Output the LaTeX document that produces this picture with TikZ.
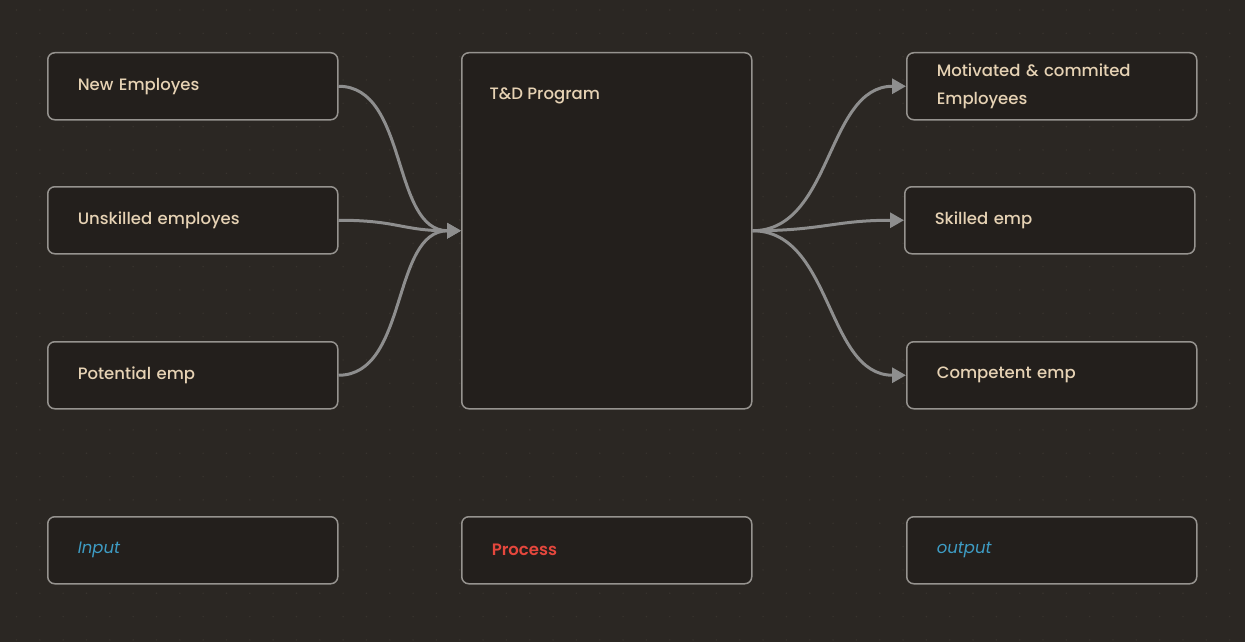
\documentclass[tikz,border=0pt]{standalone}
\usepackage{fontspec}
\setmainfont{Poppins}[UprightFont={* Medium}, ItalicFont={* Italic}, BoldFont={* SemiBold}]
\usetikzlibrary{arrows.meta}

\definecolor{bgcol}{HTML}{2B2723}
\definecolor{dotcol}{HTML}{39342F}
\definecolor{boxfill}{HTML}{231F1C}
\definecolor{boxline}{HTML}{96938F}
\definecolor{txtcol}{HTML}{E6D2B4}
\definecolor{arrcol}{HTML}{8E8E8E}
\definecolor{labblue}{HTML}{3E9CC4}
\definecolor{labred}{HTML}{E5473D}

\tikzset{
    card/.style={draw=boxline, line width=1.5pt, fill=boxfill, rounded corners=7pt,
        anchor=north west, text width=230pt, inner xsep=30pt, inner ysep=0pt,
        minimum height=67pt, align=left, text=txtcol,
        font=\fontsize{16.5}{28}\selectfont},
    flow/.style={draw=arrcol, line width=3pt, -{Triangle[length=14pt,width=15pt]}},
}

\begin{document}
\begin{tikzpicture}[x=1pt, y=-1pt]
    \useasboundingbox (0,0) rectangle (1245,642);
    \fill[bgcol] (0,0) rectangle (1245,642);
    \foreach \i in {0,...,53}
        \foreach \j in {0,...,27}
            \fill[dotcol] ({16.5+23.33*\i},{10+23.33*\j}) circle (0.8pt);

    % input side
    \node[card] (newemp) at (47,52) {New Employes};
    \node[card] (unskilled) at (47,186) {Unskilled employes};
    \node[card] (potential) at (47,341) {Potential emp};

    % process
    \node[card, minimum height=356pt,
          label={[anchor=west, xshift=25pt, yshift=-44pt, text=txtcol,
                  font=\fontsize{16.5}{28}\selectfont]north west:T\&D Program}]
          (td) at (461,52) {};

    % output side
    \node[card] (motivated) at (906,52) {Motivated \& commited\\Employees};
    \node[card] (skilled) at (904,186) {Skilled emp};
    \node[card] (competent) at (906,341) {Competent emp};

    % legend row
    \node[card, text=labblue, font=\fontsize{16.5}{28}\selectfont\itshape] (input) at (47,516) {Input};
    \node[card, text=labred, font=\fontsize{16.5}{28}\selectfont\bfseries] (process) at (461,516) {Process};
    \node[card, text=labblue, font=\fontsize{16.5}{28}\selectfont\itshape] (output) at (906,516) {output};

    \draw[flow] (newemp.east) .. controls +(70,0) and +(-70,0) .. (td.west);
    \draw[flow] (unskilled.east) .. controls +(60,0) and +(-60,0) .. (td.west);
    \draw[flow] (potential.east) .. controls +(70,0) and +(-70,0) .. (td.west);

    \draw[flow] (td.east) .. controls +(80,0) and +(-80,0) .. (motivated.west);
    \draw[flow] (td.east) .. controls +(70,0) and +(-70,0) .. (skilled.west);
    \draw[flow] (td.east) .. controls +(80,0) and +(-80,0) .. (competent.west);
\end{tikzpicture}
\end{document}
